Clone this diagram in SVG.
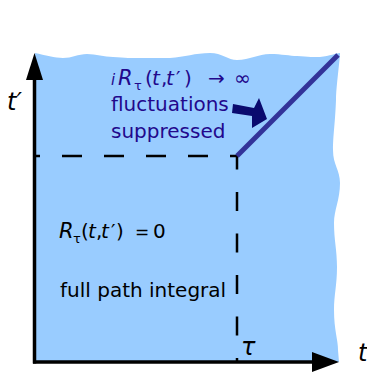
<svg xmlns="http://www.w3.org/2000/svg" width="367" height="377" viewBox="0 0 367 377">
<style>
.t{font-family:"DejaVu Sans",Verdana,sans-serif;font-size:20px}
.it{font-style:italic}
.nv{fill:#22088c}
.bk{fill:#000}
.ax{stroke:#000;stroke-width:3.5;fill:none}
.dash{stroke:#000;stroke-width:2.5;fill:none}
.sub{font-size:13px}
.big{font-size:24px}
</style>
<g id="region">
<path d="M35,53 C45,55 55,58 63,58 C72,58 78,54 87,54 C96,54 104,57 113,57 C125,58 132,58 140,58 C152,58 160,58 170,58 C185,57 195,53 210,53 C222,53 228,60 237,60 C250,60 258,54 270,54 C282,54 290,56 297,56 C308,57 315,57 320,57 C330,56 336,53 340,53 L340,55 C338,75 336,90 336,100 C335,125 333,135 333,150 C333,165 340,170 340,183 C340,200 334,210 334,223 C334,240 337,250 337,267 C337,285 334,295 334,310 C334,330 338,340 338,350 L339,362 L35,362 Z" fill="#99ccff"/>
</g>
<g id="connectors">
<line class="dash" x1="36" y1="156" x2="237" y2="156" stroke-dasharray="20 22" stroke-dashoffset="16"/>
<line class="dash" x1="237" y1="156" x2="237" y2="362" stroke-dasharray="19 22.5" stroke-dashoffset="5.5"/>
<line x1="237" y1="156" x2="338" y2="55" stroke="#333399" stroke-width="5"/>
</g>
<g id="axes">
<line class="ax" x1="34.5" y1="75" x2="34.5" y2="363.5"/>
<polygon points="34.5,53 26,80 43,80" fill="#000"/>
<line class="ax" x1="33" y1="362" x2="315" y2="362"/>
<polygon points="339,362 312,352 312,372" fill="#000"/>
<text class="t it bk big" x="7" y="110">t′</text>
<text class="t it bk big" x="358" y="361">t</text>
<text class="t it bk big" x="241" y="355">τ</text>
</g>
<g id="limit-label">
<text class="t nv" y="85"><tspan class="it" x="111" style="font-size:15px">i</tspan><tspan class="it" x="118" style="font-size:21px">R</tspan><tspan class="sub" x="134" dy="5">τ</tspan><tspan x="145" dy="-5">(</tspan><tspan class="it" x="152">t</tspan><tspan x="161">,</tspan><tspan class="it" x="166">t</tspan><tspan x="176">′</tspan><tspan x="184">)</tspan><tspan x="208">→</tspan><tspan x="234">∞</tspan></text>
<text class="t nv" x="111" y="111">fluctuations</text>
<text class="t nv" x="111" y="138">suppressed</text>
<polygon points="233,104 254,108 259,98 267,119 252,128 252,116 232,113" fill="#0a0a6e"/>
</g>
<g id="zero-label">
<text class="t bk" y="238"><tspan class="it" x="59" style="font-size:21px">R</tspan><tspan class="sub" x="73" dy="5">τ</tspan><tspan x="81" dy="-5">(</tspan><tspan class="it" x="88">t</tspan><tspan x="96">,</tspan><tspan class="it" x="101">t</tspan><tspan x="111">′</tspan><tspan x="116">)</tspan><tspan x="135" style="font-size:17px">=</tspan><tspan x="153">0</tspan></text>
<text class="t bk" x="60" y="297">full path integral</text>
</g>
</svg>
